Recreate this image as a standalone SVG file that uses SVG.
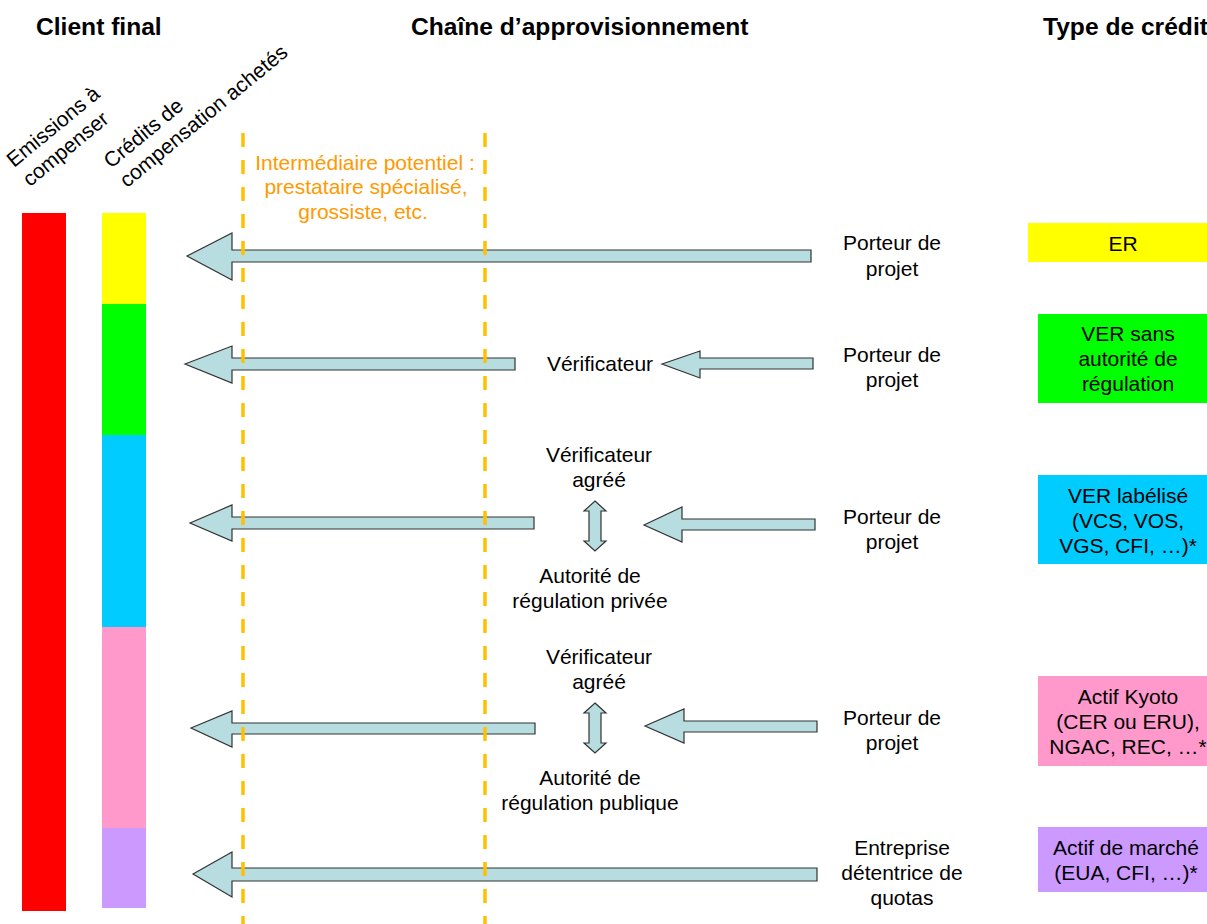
<svg xmlns="http://www.w3.org/2000/svg" width="1207" height="924" viewBox="0 0 1207 924">
<style>
text{font-family:"Liberation Sans",Arial,sans-serif;font-size:21px;fill:#000}
.h{font-weight:bold;font-size:24.6px}
.m{text-anchor:middle}
.o{fill:#FF9900}
.arr{fill:#B7DDE1;stroke:#333;stroke-width:1.2;stroke-linejoin:miter}
.dash{stroke:#FFC000;stroke-width:3.5;stroke-dasharray:14 13;fill:none}
</style>
<rect width="1207" height="924" fill="#fff"/>
<g id="headers">
<text class="h" x="36" y="35">Client final</text>
<text class="h" x="411" y="35">Chaîne d’approvisionnement</text>
<text class="h" x="1043" y="35">Type de crédit</text>
</g>
<g id="col-labels">
<text transform="translate(14,168) rotate(-39.5)"><tspan x="0" y="0">Emissions à</tspan><tspan x="0" y="25">compenser</tspan></text>
<text transform="translate(111,169) rotate(-39.5)"><tspan x="0" y="0">Crédits de</tspan><tspan x="0" y="25">compensation achetés</tspan></text>
</g>
<g id="bar-emissions"><rect x="22" y="213" width="44" height="698" fill="#FF0000"/></g>
<g id="bar-credits">
<rect x="102" y="213" width="44" height="91" fill="#FFFF00"/>
<rect x="102" y="304" width="44" height="131" fill="#00FF00"/>
<rect x="102" y="435" width="44" height="192" fill="#00CCFF"/>
<rect x="102" y="627" width="44" height="201" fill="#FF99CC"/>
<rect x="102" y="828" width="44" height="80" fill="#CC99FF"/>
</g>
<g id="intermediaire">
<text class="m o" x="365" y="170">Intermédiaire potentiel :</text>
<text class="m o" x="366" y="194">prestataire spécialisé,</text>
<text class="m o" x="363" y="219">grossiste, etc.</text>
</g>
<g id="connectors">
<polygon class="arr" points="187,256 232,233 232,250 811,250 811,262 232,262 232,280"/>
<polygon class="arr" points="185,364 232,346 232,358 515,358 515,370 232,370 232,383"/>
<polygon class="arr" points="662,364 700,351 700,358 813,358 813,369 700,369 700,378"/>
<polygon class="arr" points="190,523 232,505 232,517 534,517 534,529 232,529 232,541"/>
<polygon class="arr" points="644,525 682,507 682,519 815,519 815,530 682,530 682,542"/>
<polygon class="arr" points="595,501 606,511 601,511 601,541 606,541 595,551 584,541 589,541 589,511 584,511"/>
<polygon class="arr" points="191,728 232,711 232,723 535,723 535,734 232,734 232,747"/>
<polygon class="arr" points="645,726 684,709 684,721 817,721 817,732 684,732 684,743"/>
<polygon class="arr" points="595,703 606,713 601,713 601,743 606,743 595,753 584,743 589,743 589,713 584,713"/>
<polygon class="arr" points="193,874 232,852 232,868 817,868 817,881 232,881 232,897"/>
</g>
<g id="dashed-lines">
<line class="dash" x1="243" y1="133" x2="243" y2="924"/>
<line class="dash" x1="485" y1="133" x2="485" y2="924"/>
</g>
<g id="row1">
<text class="m" x="892" y="250">Porteur de</text>
<text class="m" x="892" y="276">projet</text>
</g>
<g id="row2">
<text class="m" x="600" y="371">Vérificateur</text>
<text class="m" x="892" y="362">Porteur de</text>
<text class="m" x="892" y="387">projet</text>
</g>
<g id="row3">
<text class="m" x="599" y="462">Vérificateur</text>
<text class="m" x="599" y="487">agréé</text>
<text class="m" x="590" y="583">Autorité de</text>
<text class="m" x="590" y="608">régulation privée</text>
<text class="m" x="892" y="524">Porteur de</text>
<text class="m" x="892" y="549">projet</text>
</g>
<g id="row4">
<text class="m" x="599" y="664">Vérificateur</text>
<text class="m" x="599" y="689">agréé</text>
<text class="m" x="590" y="785">Autorité de</text>
<text class="m" x="590" y="810">régulation publique</text>
<text class="m" x="892" y="725">Porteur de</text>
<text class="m" x="892" y="750">projet</text>
</g>
<g id="row5">
<text class="m" x="902" y="855">Entreprise</text>
<text class="m" x="902" y="880">détentrice de</text>
<text class="m" x="902" y="905">quotas</text>
</g>
<g id="type-er">
<rect x="1028" y="223" width="190" height="39" fill="#FFFF00"/>
<text class="m" x="1123" y="251">ER</text>
</g>
<g id="type-ver-sans">
<rect x="1038" y="314" width="180" height="89" fill="#00FF00"/>
<text class="m" x="1128" y="341">VER sans</text>
<text class="m" x="1128" y="366">autorité de</text>
<text class="m" x="1128" y="391">régulation</text>
</g>
<g id="type-ver-label">
<rect x="1038" y="475" width="180" height="89" fill="#00CCFF"/>
<text class="m" x="1128" y="503">VER labélisé</text>
<text class="m" x="1128" y="528">(VCS, VOS,</text>
<text class="m" x="1128" y="553">VGS, CFI, …)*</text>
</g>
<g id="type-kyoto">
<rect x="1038" y="676" width="180" height="90" fill="#FF99CC"/>
<text class="m" x="1128" y="704">Actif Kyoto</text>
<text class="m" x="1128" y="729">(CER ou ERU),</text>
<text class="m" x="1128" y="754">NGAC, REC, …*</text>
</g>
<g id="type-marche">
<rect x="1038" y="827" width="180" height="65" fill="#CC99FF"/>
<text class="m" x="1126" y="855">Actif de marché</text>
<text class="m" x="1126" y="880">(EUA, CFI, …)*</text>
</g>
</svg>
